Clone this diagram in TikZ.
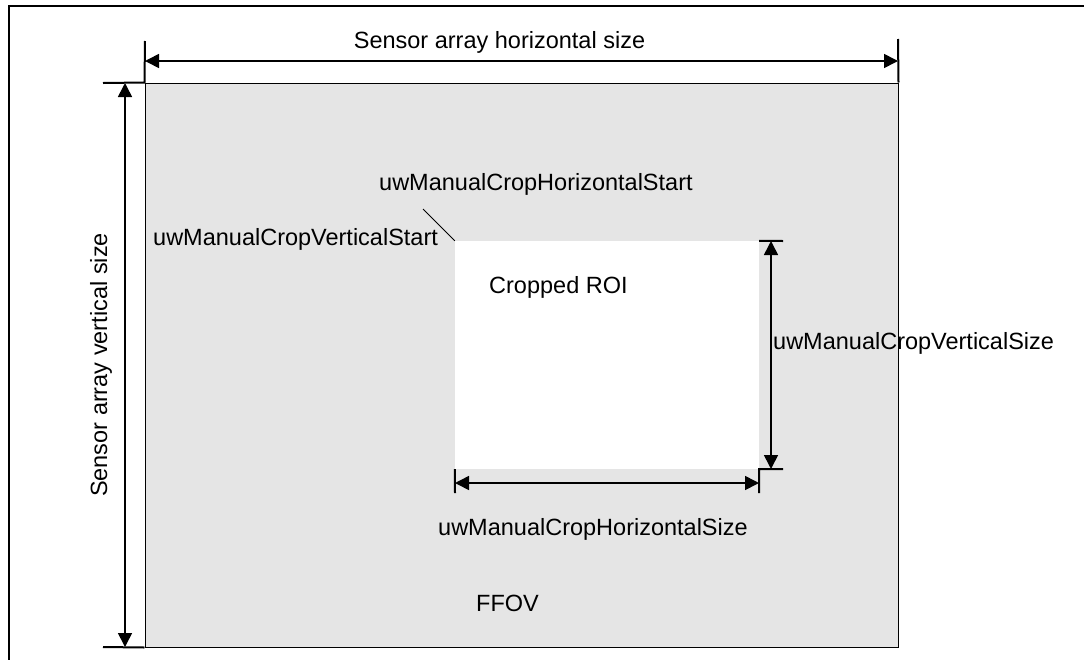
\documentclass[tikz,border=0pt]{standalone}
\usepackage{fontspec}
\setmainfont{Liberation Sans}
\usetikzlibrary{arrows.meta,positioning}
\definecolor{ffovgray}{HTML}{E5E5E5}

\begin{document}
\begin{tikzpicture}[x=1pt,y=-1pt,
	lbl/.style={font=\fontsize{23.5}{28}\selectfont, inner sep=0pt, anchor=base west},
	dimline/.style={line width=1.6pt, {Triangle[length=14pt,width=14pt]}-{Triangle[length=14pt,width=14pt]}},
	extline/.style={line width=2pt},
	area/.style={draw, line width=1pt, fill=ffovgray, inner sep=0pt}]
	\useasboundingbox (0,0) rectangle (1084,659);
	% frame
	\draw[line width=2.5pt] (9,670) -- (9,6) -- (1095,6);

	% sensor array and cropped region
	\node[area, minimum width=753pt, minimum height=564pt] (ffov) at (521.5,365) {};
	\node[fill=white, inner sep=0pt, minimum width=304pt, minimum height=228pt] (roi) at (607,355) {};

	% labels
	\node[lbl, anchor=base] (hsize) at (499.5,48) {Sensor array horizontal size};
	\node[lbl, anchor=base, rotate=90] (vsize) at (107,365) {Sensor array vertical size};
	\node[lbl] (hstart) at (379,190) {uwManualCropHorizontalStart};
	\node[lbl] (vstart) at (153,245) {uwManualCropVerticalStart};
	\node[lbl] (roilbl) at (489,293) {Cropped ROI};
	\node[lbl] (cvsize) at (773,349) {uwManualCropVerticalSize};
	\node[lbl] (chsize) at (438,535) {uwManualCropHorizontalSize};
	\node[lbl] (ffovlbl) at (476,611) {FFOV};

	% extension lines
	\coordinate (tl) at (145,41);
	\coordinate (tr) at (898,39);
	\coordinate (lt) at (103,83);
	\coordinate (lb) at (103,647);
	\coordinate (rt) at (783,241);
	\coordinate (rb) at (783,469);
	\coordinate (bl) at (455,493);
	\coordinate (br) at (759,493);
	\draw[extline] (tl) -- (ffov.north west) -- (lt);
	\draw[extline] (tr) -- (ffov.north east);
	\draw[extline] (lb) -- (ffov.south west);
	\draw[extline] (rt) -- (roi.north east);
	\draw[extline] (rb) -- (roi.south east) -- (br);
	\draw[extline] (bl) -- (roi.south west);

	% dimension arrows
	\coordinate (hl) at (145,61);
	\coordinate (hr) at (898,61);
	\coordinate (vt) at (125,83);
	\coordinate (vb) at (125,647);
	\coordinate (cvt) at (771,241);
	\coordinate (cvb) at (771,469);
	\coordinate (chl) at (455,483);
	\coordinate (chr) at (759,483);
	\draw[dimline] (hl) -- (hr);
	\draw[dimline] (vt) -- (vb);
	\draw[dimline] (cvt) -- (cvb);
	\draw[dimline] (chl) -- (chr);

	% leader to crop start
	\coordinate (lead) at (423,209);
	\draw[line width=1pt] (lead) -- (roi.north west);
\end{tikzpicture}
\end{document}
